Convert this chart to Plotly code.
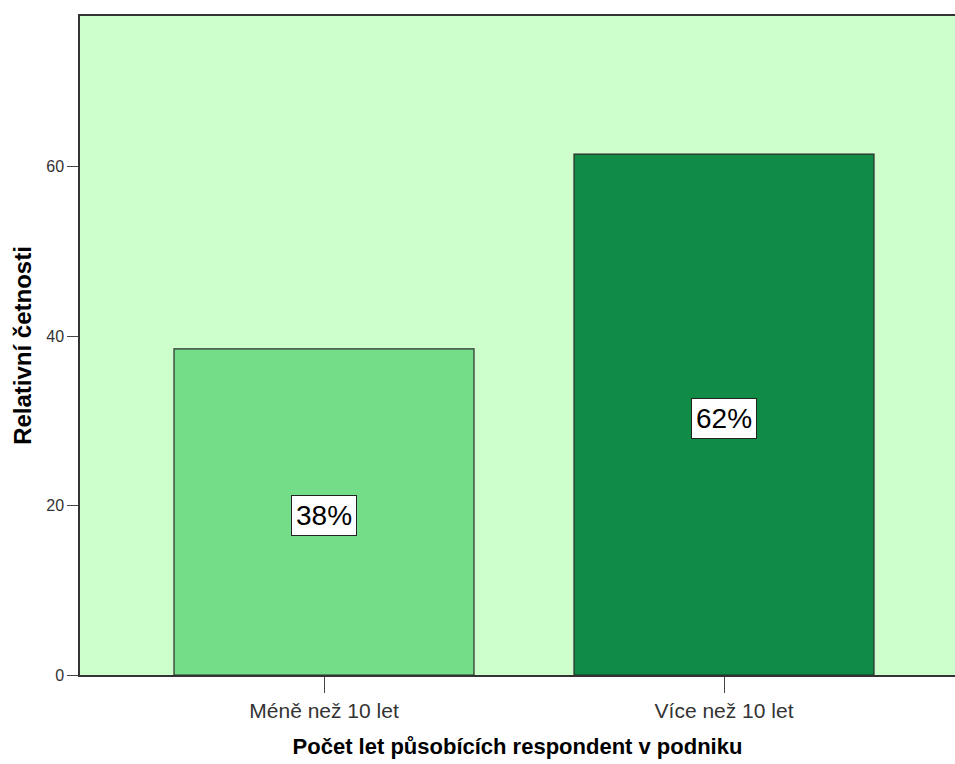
import plotly.graph_objects as go

categories = ["Méně než 10 let", "Více než 10 let"]
values = [38.5, 61.5]
bar_colors = ["#73DE87", "#108C47"]
y_ticks = [0, 20, 40, 60]

fig = go.Figure()
fig.add_trace(go.Bar(
    x=categories, y=values, width=0.75,
    marker=dict(color=bar_colors, line=dict(color="#2b2b2b", width=1.2)),
    hoverinfo="skip",
))

for c, v in zip(categories, values):
    fig.add_annotation(
        x=c, y=v / 2, text=f"{round(v)}%", showarrow=False, yshift=-4,
        font=dict(family="Liberation Sans, Arial", size=28, color="black"),
        bgcolor="white", bordercolor="#222", borderwidth=1, borderpad=4,
    )

fig.update_layout(
    width=955, height=764,
    margin=dict(l=80, r=0, t=16, b=89),
    paper_bgcolor="white", plot_bgcolor="#CCFFCC",
    showlegend=False,
    font=dict(family="Liberation Sans, Arial", color="#222"),
)
fig.update_xaxes(
    range=[-0.61, 1.5775], showgrid=False, zeroline=False,
    showline=True, linecolor="#333", linewidth=1.5, mirror=True,
    ticks="outside", ticklen=16, tickcolor="#444",
    tickfont=dict(size=21, color="#333"),
    title=dict(text="<b>Počet let působících respondent v podniku</b>",
               font=dict(size=22, color="black"), standoff=18),
)
fig.update_yaxes(
    range=[0, 77.8], tickvals=y_ticks, showgrid=False, zeroline=False,
    showline=True, linecolor="#333", linewidth=1.5,
    ticks="outside", ticklen=11, tickcolor="#444",
    tickfont=dict(size=16, color="#333"),
    title=dict(text="<b>Relativní četnosti</b>",
               font=dict(size=24, color="black"), standoff=8),
)

fig.write_html("out.html")
